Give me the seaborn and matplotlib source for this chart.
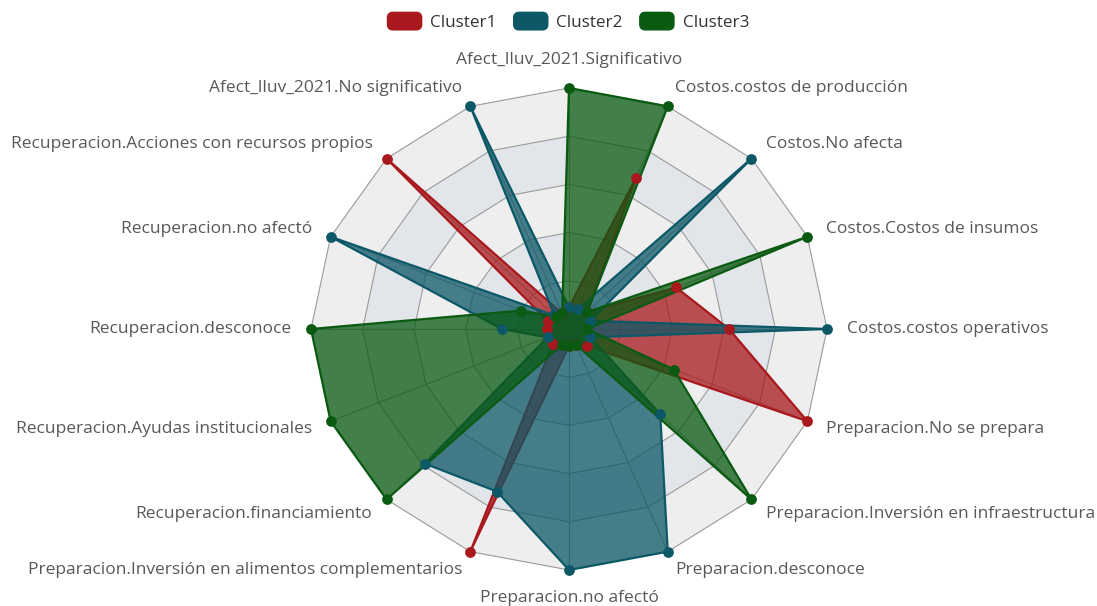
import numpy as np
import matplotlib
matplotlib.use('Agg')
import matplotlib.pyplot as plt
import matplotlib.patches as mpatches
from matplotlib.patches import FancyBboxPatch
from matplotlib.legend_handler import HandlerPatch
import seaborn as sns

# radar indicators, clockwise from the top
indicators = [
    'Afect_lluv_2021.Significativo',
    'Costos.costos de producción',
    'Costos.No afecta',
    'Costos.Costos de insumos',
    'Costos.costos operativos',
    'Preparacion.No se prepara',
    'Preparacion.Inversión en infraestructura',
    'Preparacion.desconoce',
    'Preparacion.no afectó',
    'Preparacion.Inversión en alimentos complementarios',
    'Recuperacion.financiamiento',
    'Recuperacion.Ayudas institucionales',
    'Recuperacion.desconoce',
    'Recuperacion.no afectó',
    'Recuperacion.Acciones con recursos propios',
    'Afect_lluv_2021.No significativo',
]
cluster1 = [0.09, 0.68, 0.10, 0.45, 0.62, 1.0, 0.10, 0.07, 0.07, 1.0, 0.09, 0.09, 0.085, 0.09, 1.0, 0.07]
cluster2 = [0.09, 0.09, 1.0, 0.09, 1.0, 0.09, 0.50, 1.0, 1.0, 0.73, 0.79, 0.09, 0.26, 1.0, 0.08, 1.0]
cluster3 = [1.0, 1.0, 0.10, 1.0, 0.07, 0.44, 1.0, 0.07, 0.07, 0.07, 1.0, 1.0, 1.0, 0.20, 0.07, 0.07]
series_names = ['Cluster1', 'Cluster2', 'Cluster3']
series_colors = ['#a8181c', '#0c5866', '#0a5a12']
levels = [0.2, 0.4, 0.6, 0.8, 1.0]
band_colors = ['#eeeeee', '#e2e5ea']

sns.set_theme(style='white')
plt.rcParams['font.family'] = ['Open Sans', 'DejaVu Sans']

fig = plt.figure(figsize=(10.97, 6.06), dpi=100)
ax = fig.add_axes([0.2835, 0.0594, 0.4704, 0.7954], projection='polar')
ax.set_theta_zero_location('N')
ax.set_theta_direction(-1)
ax.set_aspect('auto')
ax.patch.set_facecolor('none')

n = len(indicators)
theta = np.arange(n) * 2 * np.pi / n
theta_c = np.append(theta, theta[0])

# split areas, outside in
for i in range(len(levels) - 1, -1, -1):
    ax.fill(theta_c, [levels[i]] * (n + 1), color=band_colors[i % 2], lw=0, zorder=0)
for lvl in levels:
    ax.plot(theta_c, [lvl] * (n + 1), color='#9a9a9a', lw=0.8, zorder=1, clip_on=False)
for t in theta:
    ax.plot([t, t], [0, 1], color='#9a9a9a', lw=0.8, zorder=1, clip_on=False)

data = [cluster1, cluster2, cluster3]
for k, (name, vals, col) in enumerate(zip(series_names, data, series_colors)):
    v = np.append(vals, vals[0])
    ax.fill(theta_c, v, color=col, alpha=0.75, lw=0, zorder=2 + k, clip_on=False)
    ax.plot(theta_c, v, color=col, lw=1.6, zorder=2 + k, clip_on=False)
    # symbols sit above all the areas
    sns.scatterplot(x=theta, y=vals, ax=ax, color=col, s=60, linewidth=0,
                    zorder=10 + k, legend=False, clip_on=False)

ax.set_ylim(0, 1)
ax.grid(False)
ax.set_xticks([])
ax.set_yticks([])
ax.set_xlabel('')
ax.set_ylabel('')
ax.spines['polar'].set_visible(False)

for t, name in zip(theta, indicators):
    s, c = np.sin(t), np.cos(t)
    ha = 'left' if s > 0.01 else ('right' if s < -0.01 else 'center')
    va = 'bottom' if c > 0.99 else ('top' if c < -0.99 else 'center')
    ax.annotate(name, xy=(t, 1), xytext=(20 * s, 20 * c), textcoords='offset pixels',
                ha=ha, va=va, fontsize=12.5, color='#585858', annotation_clip=False)


def rounded_box(legend, orig_handle, xdescent, ydescent, width, height, fontsize):
    return FancyBboxPatch((-xdescent, -ydescent), width, height,
                          boxstyle='round,pad=0,rounding_size=4')


handles = [mpatches.Patch(color=c, label=nm) for nm, c in zip(series_names, series_colors)]
fig.legend(handles=handles, loc='upper center', bbox_to_anchor=(0.518, 1.005), ncol=3,
           frameon=False, fontsize=12.3, handlelength=2.0, handleheight=1.2,
           handletextpad=0.5, columnspacing=1.0, labelcolor='#333333',
           handler_map={mpatches.Patch: HandlerPatch(patch_func=rounded_box)})

fig.savefig('out.png', dpi=100)
